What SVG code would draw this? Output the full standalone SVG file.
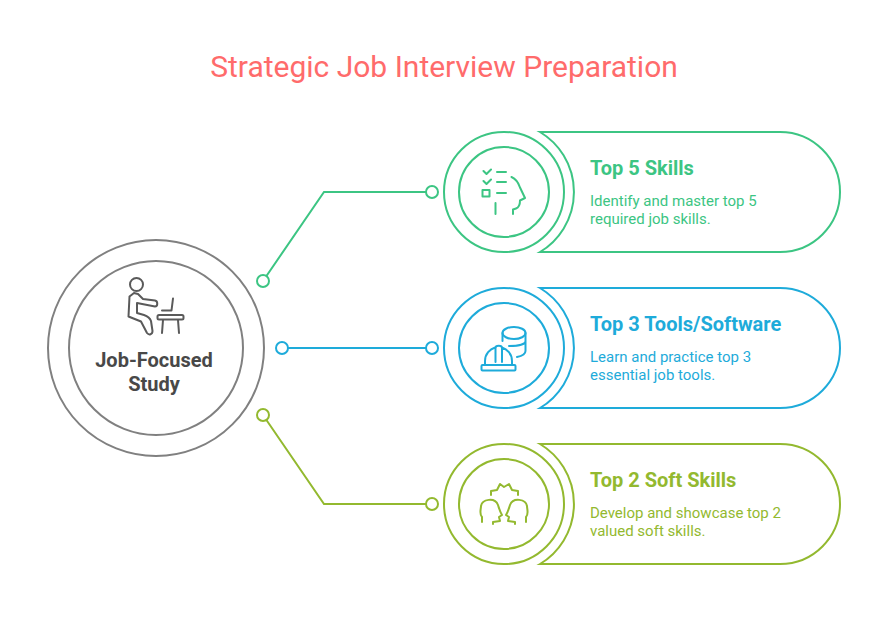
<svg xmlns="http://www.w3.org/2000/svg" width="888" height="624" viewBox="0 0 888 624">
<style>
text{font-family:Roboto,"Liberation Sans",sans-serif}
.t{font-size:30px;fill:#ff6b6b}
.h{font-size:20px;font-weight:700}
.d{font-size:15px}
.n{font-size:20px;font-weight:700;fill:#484848;text-anchor:middle}
.r,.i,.c{fill:none;stroke-width:2}
.i{stroke-linecap:round;stroke-linejoin:round}
.dot{fill:#fff;stroke-width:2}
.g{stroke:#3cc583}.gt{fill:#3cc583}
.b{stroke:#1eabda}.bt{fill:#1eabda}
.o{stroke:#93b92f}.ot{fill:#93b92f}
.k{stroke:#808080}
</style>
<rect width="888" height="624" fill="#fff"/>
<text class="t" x="444" y="77" text-anchor="middle">Strategic Job Interview Preparation</text>
<g id="connectors">
<path class="c g" d="M263 281L324 192H432"/>
<path class="c b" d="M282 348H432"/>
<path class="c o" d="M263 415L324 504H432"/>
<circle class="dot g" cx="263" cy="281" r="6"/>
<circle class="dot g" cx="432" cy="192" r="6"/>
<circle class="dot b" cx="282" cy="348" r="6"/>
<circle class="dot b" cx="432" cy="348" r="6"/>
<circle class="dot o" cx="263" cy="415" r="6"/>
<circle class="dot o" cx="432" cy="504" r="6"/>
</g>
<g id="center">
<circle class="r k" cx="156" cy="348" r="108"/>
<circle class="r k" cx="156" cy="348" r="87"/>
<g class="i" style="fill:none;stroke:#5a5a5a">
<circle cx="136.500" cy="284.500" r="6.500"/>
<path d="M134 293L129.500 296.500L128.500 316.500L141 321.500L147 333C149 335.500 152.500 334.500 152.500 331L151 321C150 318 147 316 144 315L137 313L137 303L155 306.500C158 306.500 158 301 155 300.500L143 299L138 294Z"/>
<path d="M173 298.500L171.500 310.500H162"/>
<rect x="157.500" y="315" width="26" height="4.500" rx="1.500"/>
<path d="M163 320L162 333M178 320L179 333"/>
</g>
<text class="n" x="154" y="367">Job-Focused</text>
<text class="n" x="154" y="391">Study</text>
</g>
<g id="skills">
<path class="r g" d="M540 132H780A60 60 0 0 1 780 252H540A70 70 0 0 0 540 132Z"/>
<circle class="r g" cx="504" cy="192" r="60"/>
<circle class="r g" cx="504" cy="192" r="45"/>
<g class="i g">
<path d="M483.500 171L486.500 174L491 169.500M483.500 181L486.500 184L491 179.500M497 172H506M497 182H506M497 193H506M495.500 203V214M513 214V209.500L516 208.500C519 207.500 520 205.500 520 200.500L525 198L520 187.500C518 181.500 515 178.500 511.500 177"/>
<rect x="482.500" y="190" width="7" height="6.500"/>
</g>
<text class="h gt" x="590" y="175">Top 5 Skills</text>
<text class="d gt" x="590" y="206">Identify and master top 5</text>
<text class="d gt" x="590" y="224">required job skills.</text>
</g>
<g id="tools">
<path class="r b" d="M540 288H780A60 60 0 0 1 780 408H540A70 70 0 0 0 540 288Z"/>
<circle class="r b" cx="504" cy="348" r="60"/>
<circle class="r b" cx="504" cy="348" r="45"/>
<g class="i b">
<ellipse cx="514" cy="333" rx="11.500" ry="6"/>
<path d="M502.500 333V341M525.500 333V351C525.500 354 522 356 517 357M525.500 341C525.500 344 519 346 509 346"/>
<rect x="481.500" y="365" width="34" height="5.500" rx="1"/>
<path d="M485 365V361C485 354 490 349 495 347.500M512 365V361C512 354 507 349 502 347.500M495.500 362V348C495.500 345 502 345 502 348V362"/>
</g>
<text class="h bt" x="590" y="331">Top 3 Tools/Software</text>
<text class="d bt" x="590" y="362">Learn and practice top 3</text>
<text class="d bt" x="590" y="380">essential job tools.</text>
</g>
<g id="soft">
<path class="r o" d="M540 444H780A60 60 0 0 1 780 564H540A70 70 0 0 0 540 444Z"/>
<circle class="r o" cx="504" cy="504" r="60"/>
<circle class="r o" cx="504" cy="504" r="45"/>
<g class="i o">
<path d="M491 495V491L497 490L500 484L504 487L509 484L512 490L518 491V495"/>
<path d="M482 522V517C479 514 481 509 481 506C482 499 495 497 498 505C499 508 500 512 502 515L499 517L500 521L493 522V524"/>
<path d="M526 522V517C529 514 527 509 527 506C526 499 513 497 510 505C509 508 508 512 506 515L509 517L508 521L515 522V524"/>
</g>
<text class="h ot" x="590" y="487">Top 2 Soft Skills</text>
<text class="d ot" x="590" y="518">Develop and showcase top 2</text>
<text class="d ot" x="590" y="536">valued soft skills.</text>
</g>
</svg>
